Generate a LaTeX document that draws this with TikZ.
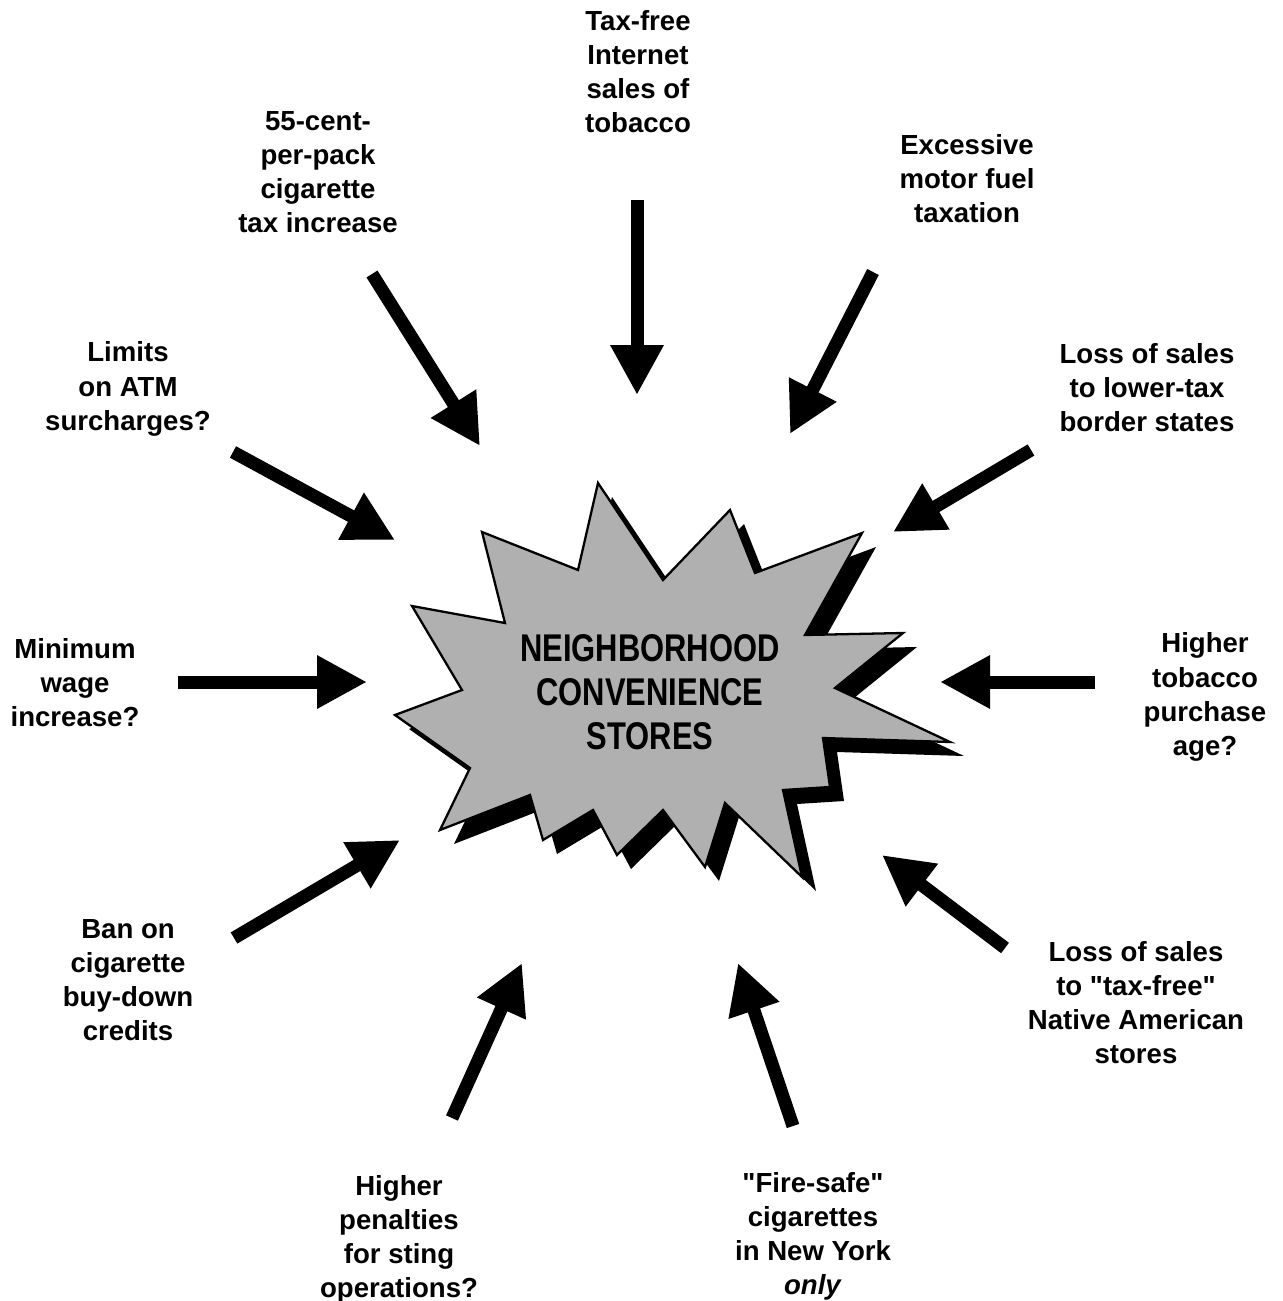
\documentclass[tikz,border=0pt]{standalone}
\usepackage{fontspec}
\setmainfont{Liberation Sans}
\newfontfamily\hubfont[FakeStretch=0.8]{Liberation Sans}
\newfontfamily\qfont{Liberation Sans}
\usepackage{tikz}
\usetikzlibrary{arrows.meta}
\tikzset{
  lbl/.style   = {align=center, inner sep=0pt,
                  font=\fontsize{15.7}{19.4}\selectfont\bfseries},
  hub/.style   = {align=center, inner sep=0pt,
                  font=\hubfont\fontsize{22}{25.2}\selectfont\bfseries},
  arr/.style   = {-{Triangle[length=1cm, width=1cm]}, line width=0.26cm},
  burst/.style = {draw=black, line width=1.3pt, fill=gray!62},
  shade/.style = {fill=black, shift={(14,14)}},
}
\newcommand{\qq}{{\qfont\char34\relax}}
\newcommand{\burstpath}{(598,483) -- (663,580) -- (730,510) -- (755,573)
  -- (862,533) -- (805,635) -- (903,633) -- (835,688) -- (950,742)
  -- (823,738) -- (830,787) -- (783,790) -- (802,877) -- (725,803)
  -- (705,867) -- (663,810) -- (617,855) -- (593,810) -- (543,840)
  -- (530,795) -- (440,830) -- (470,768) -- (395,715) -- (462,690)
  -- (412,606) -- (505,623) -- (482,532) -- (578,570) -- cycle}

\begin{document}
\begin{tikzpicture}[x=0.02cm, y=-0.02cm]
  \useasboundingbox (0,0) rectangle (1282,1301);

  % the burst in the middle
  \fill[shade] \burstpath;
  \draw[burst] \burstpath;
  \node[hub] (stores) at (650,692) {NEIGHBORHOOD\\CONVENIENCE\\STORES};

  % pressures
  \node[lbl] (tax)      at (638,72)   {Tax-free\\Internet\\sales of\\tobacco};
  \node[lbl] (cent)     at (318,172)  {55-cent-\\per-pack\\cigarette\\tax increase};
  \node[lbl] (fuel)     at (967,179)  {Excessive\\motor fuel\\taxation};
  \node[lbl] (atm)      at (128,389)  {Limits\\on ATM\\surcharges?};
  \node[lbl] (border)   at (1147,388) {Loss of sales\\to lower-tax\\border states};
  \node[lbl] (wage)     at (75,683)   {Minimum\\wage\\increase?};
  \node[lbl] (age)      at (1205,697) {Higher\\tobacco\\purchase\\age?};
  \node[lbl] (buydown)  at (128,980)  {Ban on\\cigarette\\buy-down\\credits};
  \node[lbl] (native)   at (1136,1003) {Loss of sales\\to \qq tax-free\qq\\Native American\\stores};
  \node[lbl] (sting)    at (399,1239) {Higher\\penalties\\for sting\\operations?};
  \node[lbl] (firesafe) at (813,1236) {\qq Fire-safe\qq\\cigarettes\\in New York\\\textit{only}};

  % arrow ends
  \coordinate (taxA)  at (637,200);  \coordinate (taxB)  at (637,395);
  \coordinate (centA) at (372,274);  \coordinate (centB) at (480,446);
  \coordinate (fuelA) at (873,272);  \coordinate (fuelB) at (790,434);
  \coordinate (atmA)  at (233,452);  \coordinate (atmB)  at (395,540);
  \coordinate (bordA) at (1031,450); \coordinate (bordB) at (893,532);
  \coordinate (wageA) at (178,682);  \coordinate (wageB) at (367,682);
  \coordinate (ageA)  at (1095,682); \coordinate (ageB)  at (940,682);
  \coordinate (buyA)  at (234,938);  \coordinate (buyB)  at (400,840);
  \coordinate (natA)  at (1005,948); \coordinate (natB)  at (882,855);
  \coordinate (stA)   at (452,1118); \coordinate (stB)   at (522,963);
  \coordinate (fsA)   at (793,1126); \coordinate (fsB)   at (738,963);

  \draw[arr] (taxA)  -- (taxB);
  \draw[arr] (centA) -- (centB);
  \draw[arr] (fuelA) -- (fuelB);
  \draw[arr] (atmA)  -- (atmB);
  \draw[arr] (bordA) -- (bordB);
  \draw[arr] (wageA) -- (wageB);
  \draw[arr] (ageA)  -- (ageB);
  \draw[arr] (buyA)  -- (buyB);
  \draw[arr] (natA)  -- (natB);
  \draw[arr] (stA)   -- (stB);
  \draw[arr] (fsA)   -- (fsB);
\end{tikzpicture}
\end{document}
